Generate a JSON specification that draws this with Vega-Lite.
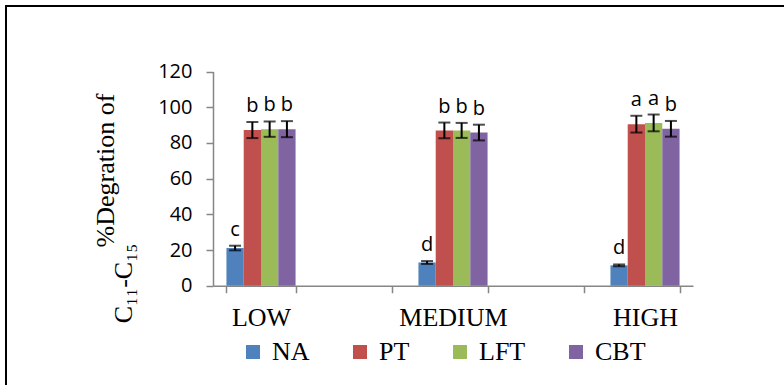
{
  "$schema": "https://vega.github.io/schema/vega-lite/v6.json",
  "width": 798,
  "height": 399,
  "padding": {"left": 6, "top": 6, "right": -20, "bottom": -20},
  "autosize": {"type": "none"},
  "background": "white",
  "config": {
    "view": {"stroke": "black", "strokeWidth": 2, "fill": null},
    "axis": {"grid": false}
  },
  "resolve": {"axis": {"y": "independent"}},
  "data": {
    "values": [
      {"level": "LOW", "group": "NA", "value": 21.1, "lo": 19.8, "hi": 22.4, "sig": "c"},
      {"level": "LOW", "group": "PT", "value": 87.2, "lo": 82.7, "hi": 91.7, "sig": "b"},
      {"level": "LOW", "group": "LFT", "value": 87.7, "lo": 83.4, "hi": 92.0, "sig": "b"},
      {"level": "LOW", "group": "CBT", "value": 87.7, "lo": 83.2, "hi": 92.2, "sig": "b"},
      {"level": "MEDIUM", "group": "NA", "value": 13.0, "lo": 12.2, "hi": 13.8, "sig": "d"},
      {"level": "MEDIUM", "group": "PT", "value": 87.0, "lo": 82.6, "hi": 91.4, "sig": "b"},
      {"level": "MEDIUM", "group": "LFT", "value": 87.0, "lo": 82.8, "hi": 91.2, "sig": "b"},
      {"level": "MEDIUM", "group": "CBT", "value": 85.8, "lo": 81.4, "hi": 90.2, "sig": "b"},
      {"level": "HIGH", "group": "NA", "value": 11.4, "lo": 10.9, "hi": 11.9, "sig": "d"},
      {"level": "HIGH", "group": "PT", "value": 90.5, "lo": 85.8, "hi": 95.2, "sig": "a"},
      {"level": "HIGH", "group": "LFT", "value": 91.2, "lo": 86.5, "hi": 95.9, "sig": "a"},
      {"level": "HIGH", "group": "CBT", "value": 87.9, "lo": 83.5, "hi": 92.3, "sig": "b"}
    ]
  },
  "encoding": {
    "x": {
      "field": "level",
      "type": "nominal",
      "sort": null,
      "scale": {"domain": ["LOW", "gap1", "MEDIUM", "gap2", "HIGH"], "range": [207, 687], "paddingInner": 0.28, "paddingOuter": 0.14},
      "axis": {
        "title": null,
        "labelAngle": 0,
        "labelExpr": "indexof(['LOW','MEDIUM','HIGH'], datum.value) >= 0 ? datum.value : ''",
        "labelFont": "Liberation Serif",
        "labelFontSize": 26,
        "labelColor": "black",
        "labelBaseline": "alphabetic",
        "labelPadding": 33,
        "tickBand": "extent",
        "tickSize": 7,
        "tickColor": "#868686",
        "domainColor": "#868686",
        "domainWidth": 1.5,
        "tickWidth": 1.5,
        "offset": -119.3
      }
    },
    "xOffset": {
      "field": "group",
      "type": "nominal",
      "sort": ["NA", "PT", "LFT", "CBT"],
      "scale": {"paddingInner": 0, "paddingOuter": 0}
    }
  },
  "layer": [
    {
      "mark": {"type": "bar"},
      "encoding": {
        "y": {
          "field": "value",
          "type": "quantitative",
          "scale": {"domain": [0, 120], "range": [279.7, 65.5], "nice": false},
          "axis": {
            "orient": "left",
            "values": [0, 20, 40, 60, 80, 100, 120],
            "labelFont": "Open Sans",
            "labelFontSize": 20,
            "labelColor": "black",
            "labelPadding": 14,
            "tickSize": 7,
            "tickColor": "#868686",
            "domainColor": "#868686",
            "domainWidth": 1.5,
            "tickWidth": 1.5,
            "offset": -207,
            "title": "%Degration of",
            "titleFont": "Liberation Serif",
            "titleFontSize": 26,
            "titleFontWeight": "normal",
            "titleColor": "black",
            "titleAngle": -90,
            "titleBaseline": "alphabetic",
            "titleAlign": "center",
            "titleX": -100,
            "titleY": 164
          }
        },
        "color": {
          "field": "group",
          "type": "nominal",
          "sort": ["NA", "PT", "LFT", "CBT"],
          "scale": {"domain": ["NA", "PT", "LFT", "CBT"], "range": ["#4F81BD", "#C0504D", "#9BBB59", "#8064A2"]},
          "legend": {
            "title": null,
            "orient": "none",
            "direction": "horizontal",
            "legendX": 234,
            "legendY": 333,
            "symbolType": "square",
            "symbolSize": 196,
            "symbolStrokeWidth": 0,
            "symbolOpacity": 1,
            "labelFont": "Liberation Serif",
            "labelFontSize": 26,
            "labelColor": "black",
            "labelOffset": 6,
            "columnPadding": 37,
            "padding": 0
          }
        }
      }
    },
    {
      "mark": {"type": "rule", "color": "black", "strokeWidth": 2},
      "encoding": {
        "y": {
          "field": "lo",
          "type": "quantitative",
          "axis": {
            "orient": "left",
            "offset": -207,
            "labels": false,
            "ticks": false,
            "domain": false,
            "title": "C\u2081\u2081-C\u2081\u2085",
            "titleFont": "Liberation Serif",
            "titleFontSize": 26,
            "titleFontWeight": "normal",
            "titleColor": "black",
            "titleAngle": -90,
            "titleBaseline": "alphabetic",
            "titleAlign": "center",
            "titleX": -82,
            "titleY": 277
          }
        },
        "y2": {"field": "hi"}
      }
    },
    {
      "mark": {"type": "tick", "color": "black", "thickness": 2, "size": 12},
      "encoding": {
        "y": {"field": "lo", "type": "quantitative", "axis": null}
      }
    },
    {
      "mark": {"type": "tick", "color": "black", "thickness": 2, "size": 12},
      "encoding": {
        "y": {"field": "hi", "type": "quantitative", "axis": null}
      }
    },
    {
      "mark": {"type": "text", "font": "Open Sans", "fontSize": 20, "color": "black", "baseline": "alphabetic", "dy": -10},
      "encoding": {
        "y": {"field": "hi", "type": "quantitative", "axis": null},
        "text": {"field": "sig"}
      }
    }
  ]
}
